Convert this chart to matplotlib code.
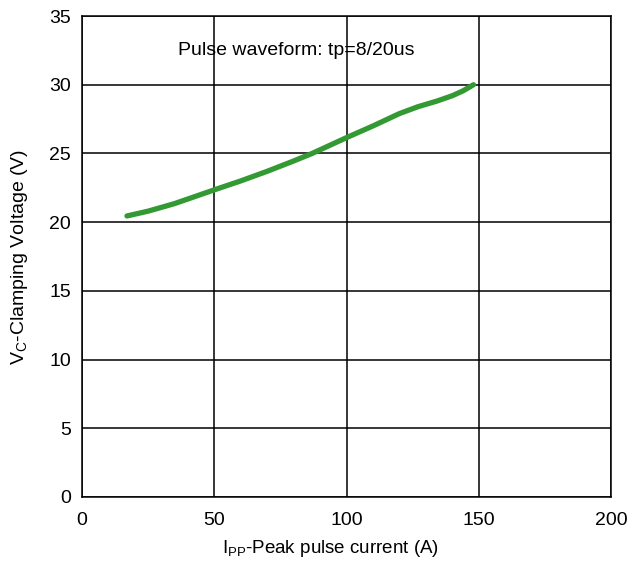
import numpy as np
import matplotlib
matplotlib.use('Agg')
import matplotlib.pyplot as plt

plt.rcParams['font.family'] = ['Liberation Sans', 'DejaVu Sans']
plt.rcParams['mathtext.fontset'] = 'custom'
plt.rcParams['mathtext.rm'] = 'Liberation Sans'
plt.rcParams['mathtext.it'] = 'Liberation Sans'

# curve
ipp = [17, 25, 35, 50, 60, 70, 80, 87, 100, 110, 120, 127, 134, 140, 144, 148]
vc = [20.45, 20.8, 21.35, 22.35, 23.0, 23.7, 24.45, 25.0, 26.15, 27.0, 27.9,
      28.4, 28.8, 29.2, 29.55, 30.0]

x_ticks = [0, 50, 100, 150, 200]
y_ticks = [0, 5, 10, 15, 20, 25, 30, 35]


def main():
    fig = plt.figure(figsize=(6.28, 5.62), dpi=100)
    ax = fig.add_axes([0.1306, 0.1157, 0.8424, 0.8558])

    ax.plot(ipp, vc, color='#339933', lw=3.8, solid_capstyle='round', zorder=3)

    ax.set_xlim(0, 200)
    ax.set_ylim(0, 35)
    ax.set_xticks(x_ticks)
    ax.set_yticks(y_ticks)
    ax.grid(True, color='black', lw=1.1)
    ax.tick_params(axis='x', labelsize=14, length=0, pad=11)
    ax.tick_params(axis='y', labelsize=14, length=0, pad=8)
    for s in ax.spines.values():
        s.set_color('black')
        s.set_linewidth(1.1)

    ax.set_xlabel(r'I$_\mathrm{PP}$-Peak pulse current (A)', fontsize=13.5, labelpad=6)
    ax.xaxis.label.set_x(0.47)
    ax.set_ylabel(r'V$_\mathrm{C}$-Clamping Voltage (V)', fontsize=14, labelpad=14)
    ax.text(81, 32.5, 'Pulse waveform: tp=8/20us', fontsize=14, ha='center', va='center')

    fig.savefig('out.png', dpi=100)
    plt.close(fig)


if __name__ == '__main__':
    main()
